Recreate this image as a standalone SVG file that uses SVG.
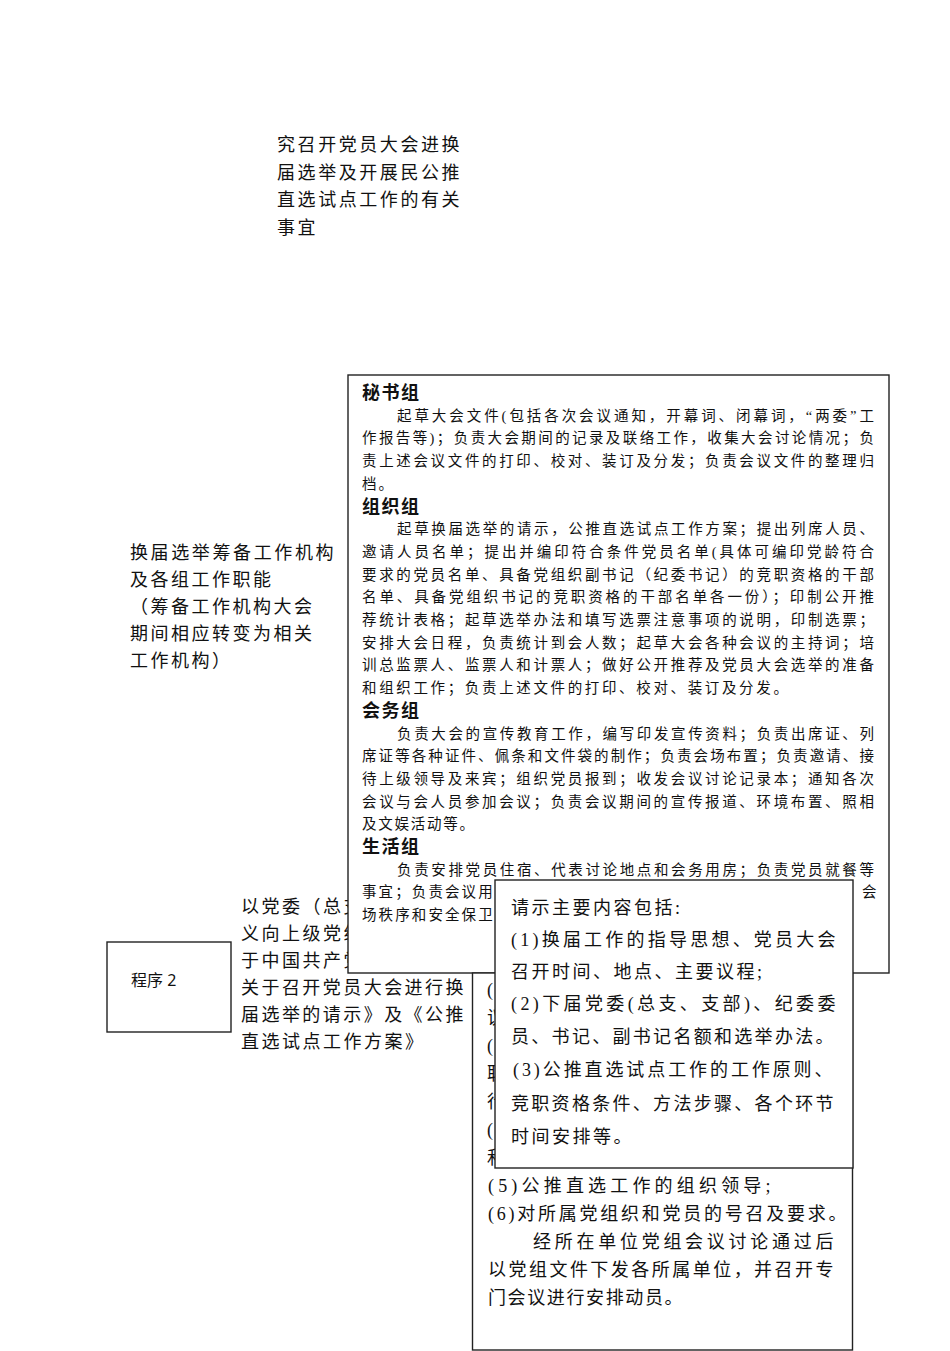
<svg xmlns="http://www.w3.org/2000/svg" width="950" height="1351" viewBox="0 0 950 1351">
<style>
text{font-family:"Liberation Serif","Noto Sans CJK SC",serif;fill:#111;dominant-baseline:central}
.b{font-size:14.5px;letter-spacing:2.1px}
.h{font-size:18px;font-weight:bold;letter-spacing:1.5px}
.m{font-size:18px;letter-spacing:2.5px}
.s{font-family:"Noto Sans","Noto Sans CJK SC",sans-serif;font-size:16px}
.box{fill:#fff;stroke:#222;stroke-width:1.4}
</style>
<rect width="950" height="1351" fill="#fff"/>
<g id="top-text">
<text class="m" x="277" y="145" textLength="185" lengthAdjust="spacing">究召开党员大会进换</text>
<text class="m" x="277" y="172.5" textLength="185" lengthAdjust="spacing">届选举及开展民公推</text>
<text class="m" x="277" y="200" textLength="185" lengthAdjust="spacing">直选试点工作的有关</text>
<text class="m" x="277" y="227.5">事宜</text>
</g>
<g id="left-label">
<text class="m" x="130" y="553" textLength="206" lengthAdjust="spacing">换届选举筹备工作机构</text>
<text class="m" x="130" y="580">及各组工作职能</text>
<text class="m" x="130" y="607">（筹备工作机构大会</text>
<text class="m" x="130" y="634">期间相应转变为相关</text>
<text class="m" x="130" y="661">工作机构）</text>
</g>
<g id="procedure-text">
<text class="m" x="241" y="907">以党委（总支</text>
<text class="m" x="241" y="934">义向上级党组</text>
<text class="m" x="241" y="961">于中国共产党</text>
<text class="m" x="241" y="988" textLength="225" lengthAdjust="spacing">关于召开党员大会进行换</text>
<text class="m" x="241" y="1015" textLength="225" lengthAdjust="spacing">届选举的请示》及《公推</text>
<text class="m" x="241" y="1042">直选试点工作方案》</text>
</g>
<g id="program2">
<rect class="box" x="107" y="942" width="124" height="90"/>
<text class="s" x="131" y="980">程序 2</text>
</g>
<g id="groups-box">
<rect class="box" x="348" y="375" width="541" height="598"/>
<text class="h" x="362" y="393">秘书组</text>
<text class="b" x="397" y="415.7" textLength="479" lengthAdjust="spacing">起草大会文件(包括各次会议通知，开幕词、闭幕词，“两委”工</text>
<text class="b" x="362" y="438.4" textLength="514" lengthAdjust="spacing">作报告等)；负责大会期间的记录及联络工作，收集大会讨论情况；负</text>
<text class="b" x="362" y="461.1" textLength="514" lengthAdjust="spacing">责上述会议文件的打印、校对、装订及分发；负责会议文件的整理归</text>
<text class="b" x="362" y="483.8">档。</text>
<text class="h" x="362" y="506.5">组织组</text>
<text class="b" x="397" y="529.2" textLength="479" lengthAdjust="spacing">起草换届选举的请示，公推直选试点工作方案；提出列席人员、</text>
<text class="b" x="362" y="551.9" textLength="514" lengthAdjust="spacing">邀请人员名单；提出并编印符合条件党员名单(具体可编印党龄符合</text>
<text class="b" x="362" y="574.6" textLength="514" lengthAdjust="spacing">要求的党员名单、具备党组织副书记（纪委书记）的竞职资格的干部</text>
<text class="b" x="362" y="597.3" textLength="514" lengthAdjust="spacing">名单、具备党组织书记的竞职资格的干部名单各一份）；印制公开推</text>
<text class="b" x="362" y="620" textLength="514" lengthAdjust="spacing">荐统计表格；起草选举办法和填写选票注意事项的说明，印制选票；</text>
<text class="b" x="362" y="642.7" textLength="514" lengthAdjust="spacing">安排大会日程，负责统计到会人数；起草大会各种会议的主持词；培</text>
<text class="b" x="362" y="665.4" textLength="514" lengthAdjust="spacing">训总监票人、监票人和计票人；做好公开推荐及党员大会选举的准备</text>
<text class="b" x="362" y="688.1" textLength="428" lengthAdjust="spacing">和组织工作；负责上述文件的打印、校对、装订及分发。</text>
<text class="h" x="362" y="710.8">会务组</text>
<text class="b" x="397" y="733.5" textLength="479" lengthAdjust="spacing">负责大会的宣传教育工作，编写印发宣传资料；负责出席证、列</text>
<text class="b" x="362" y="756.2" textLength="514" lengthAdjust="spacing">席证等各种证件、佩条和文件袋的制作；负责会场布置；负责邀请、接</text>
<text class="b" x="362" y="778.9" textLength="514" lengthAdjust="spacing">待上级领导及来宾；组织党员报到；收发会议讨论记录本；通知各次</text>
<text class="b" x="362" y="801.6" textLength="514" lengthAdjust="spacing">会议与会人员参加会议；负责会议期间的宣传报道、环境布置、照相</text>
<text class="b" x="362" y="824.3" textLength="114" lengthAdjust="spacing">及文娱活动等。</text>
<text class="h" x="362" y="847">生活组</text>
<text class="b" x="397" y="869.7" textLength="479" lengthAdjust="spacing">负责安排党员住宿、代表讨论地点和会务用房；负责党员就餐等</text>
<text class="b" x="362" y="892.4">事宜；负责会议用</text>
<text class="b" x="862" y="892.4">会</text>
<text class="b" x="362" y="915.1">场秩序和安全保卫</text>
</g>
<g id="lower-box">
<rect class="box" x="472.5" y="973" width="380" height="377"/>
<text class="m" x="487" y="990">(</text>
<text class="m" x="487" y="1018">议</text>
<text class="m" x="487" y="1046">(</text>
<text class="m" x="487" y="1074">职</text>
<text class="m" x="487" y="1102">行</text>
<text class="m" x="487" y="1130">(</text>
<text class="m" x="487" y="1158">和</text>
<text class="m" x="488" y="1186" textLength="285" lengthAdjust="spacing">(5)公推直选工作的组织领导;</text>
<text class="m" x="488" y="1214" textLength="361" lengthAdjust="spacing">(6)对所属党组织和党员的号召及要求。</text>
<text class="m" x="533" y="1242" textLength="303" lengthAdjust="spacing">经所在单位党组会议讨论通过后</text>
<text class="m" x="488" y="1270" textLength="348" lengthAdjust="spacing">以党组文件下发各所属单位，并召开专</text>
<text class="m" x="488" y="1298" textLength="197" lengthAdjust="spacing">门会议进行安排动员。</text>
</g>
<g id="request-box">
<rect class="box" x="495" y="880" width="358" height="288"/>
<text class="m" x="511" y="908">请示主要内容包括:</text>
<text class="m" x="511" y="940" textLength="327" lengthAdjust="spacing">(1)换届工作的指导思想、党员大会</text>
<text class="m" x="511" y="972">召开时间、地点、主要议程;</text>
<text class="m" x="511" y="1004" textLength="327" lengthAdjust="spacing">(2)下届党委(总支、支部)、纪委委</text>
<text class="m" x="511" y="1037" textLength="325" lengthAdjust="spacing">员、书记、副书记名额和选举办法。</text>
<text class="m" x="513" y="1070" textLength="322" lengthAdjust="spacing">(3)公推直选试点工作的工作原则、</text>
<text class="m" x="511" y="1104" textLength="325" lengthAdjust="spacing">竞职资格条件、方法步骤、各个环节</text>
<text class="m" x="511" y="1137">时间安排等。</text>
</g>
<g id="connectors"/>
</svg>
